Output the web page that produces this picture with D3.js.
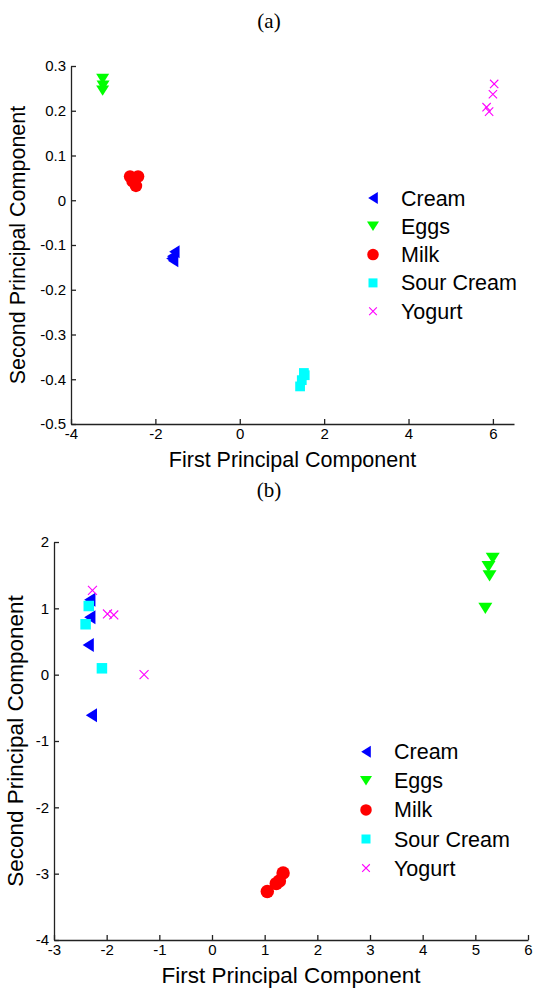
<!DOCTYPE html>
<html>
<head>
<meta charset="utf-8">
<script src="https://cdn.jsdelivr.net/npm/d3@7"></script>
<style>
  html, body { margin: 0; padding: 0; background: #fff; }
  svg { display: block; }
  .tick text { font-family: "Liberation Sans", Arial, sans-serif; font-size: 15px; fill: #000; }
  .axis path, .axis line { stroke: #222; stroke-width: 1.3; }
</style>
</head>
<body>
<svg id="fig" width="537" height="990"></svg>
<script>
// ---- Panel (a) scores: [first PC, second PC] ----
const creamA     = [[-1.55, -0.115], [-1.6, -0.125], [-1.58, -0.135], [-1.62, -0.13]];
const eggsA      = [[-3.25, 0.271], [-3.24, 0.256], [-3.25, 0.245]];
const milkA      = [[-2.6, 0.053], [-2.41, 0.053], [-2.46, 0.032], [-2.54, 0.042]];
const sourCreamA = [[1.43, -0.416], [1.47, -0.402], [1.54, -0.391], [1.52, -0.386]];
const yogurtA    = [[6.03, 0.26], [6.0, 0.237], [5.85, 0.208], [5.91, 0.198]];

// ---- Panel (b) scores ----
const creamB     = [[-2.32, 1.13], [-2.32, 0.865], [-2.35, 0.448], [-2.29, -0.61]];
const eggsB      = [[5.33, 1.755], [5.25, 1.63], [5.27, 1.49], [5.19, 1.0]];
const milkB      = [[1.05, -3.27], [1.22, -3.15], [1.28, -3.11], [1.35, -2.99]];
const sourCreamB = [[-2.34, 1.035], [-2.40, 0.76], [-2.09, 0.096]];
const yogurtB    = [[-2.27, 1.27], [-1.985, 0.915], [-1.865, 0.90], [-1.29, 0.0]];

// ---- Axis ranges and tick labels ----
const xDomainA = [-4, 6.5], yDomainA = [-0.5, 0.3];
const xTicksA = [-4, -2, 0, 2, 4, 6];
const yTicksA = [-0.5, -0.4, -0.3, -0.2, -0.1, 0, 0.1, 0.2, 0.3];
const xDomainB = [-3, 6], yDomainB = [-4, 2];
const xTicksB = [-3, -2, -1, 0, 1, 2, 3, 4, 5, 6];
const yTicksB = [-4, -3, -2, -1, 0, 1, 2];

const seriesNames = ["Cream", "Eggs", "Milk", "Sour Cream", "Yogurt"];
const seriesColors = ["#0000ff", "#00ff00", "#ff0000", "#00ffff", "#ff00ff"];
const seriesShapes = ["left", "down", "circle", "square", "cross"];

const svg = d3.select("#fig");
const FONT = "'Liberation Sans', Arial, sans-serif";

// marker drawing at (0,0)
function marker(g, shape, color, s) {
  if (shape === "left") {
    const w = s * 0.8, h = s;
    g.append("path").attr("d", `M${-w / 2},0 L${w / 2},${-h / 2} L${w / 2},${h / 2} Z`).attr("fill", color);
  } else if (shape === "down") {
    const w = s, h = s * 0.8;
    g.append("path").attr("d", `M${-w / 2},${-h / 2} L${w / 2},${-h / 2} L0,${h / 2} Z`).attr("fill", color);
  } else if (shape === "circle") {
    g.append("circle").attr("r", s * 0.48).attr("fill", color);
  } else if (shape === "square") {
    const a = s * 0.75;
    g.append("rect").attr("x", -a / 2).attr("y", -a / 2).attr("width", a).attr("height", a).attr("fill", color);
  } else {
    const a = s * 0.32;
    g.append("path").attr("d", `M${-a},${-a} L${a},${a} M${-a},${a} L${a},${-a}`)
      .attr("stroke", color).attr("stroke-width", 1.1).attr("fill", "none");
  }
}

function panel(opt) {
  const x = d3.scaleLinear().domain(opt.xDomain).range([opt.left, opt.right]);
  const y = d3.scaleLinear().domain(opt.yDomain).range([opt.bottom, opt.top]);
  const g = svg.append("g");

  g.append("text").attr("x", 269).attr("y", opt.titleY).attr("text-anchor", "middle")
    .attr("font-family", "'Liberation Serif', 'Times New Roman', serif").attr("font-size", 21)
    .text(opt.title);

  const fmt = d => String(+d.toFixed(2));
  g.append("g").attr("class", "axis").attr("transform", `translate(0,${opt.bottom})`)
    .call(d3.axisBottom(x).tickValues(opt.xTicks).tickFormat(fmt).tickSizeInner(-5).tickSizeOuter(0).tickPadding(4));
  g.append("g").attr("class", "axis").attr("transform", `translate(${opt.left},0)`)
    .call(d3.axisLeft(y).tickValues(opt.yTicks).tickFormat(fmt).tickSizeInner(-5).tickSizeOuter(0).tickPadding(5));

  g.append("text").attr("x", (opt.left + opt.right) / 2).attr("y", opt.bottom + 43)
    .attr("text-anchor", "middle").attr("font-family", FONT).attr("font-size", opt.labelSize)
    .text("First Principal Component");
  g.append("text").attr("transform", `translate(${opt.yLabelX},${(opt.top + opt.bottom) / 2}) rotate(-90)`)
    .attr("text-anchor", "middle").attr("font-family", FONT).attr("font-size", opt.labelSize)
    .text("Second Principal Component");

  opt.series.forEach((pts, i) => {
    pts.forEach(p => {
      const m = g.append("g").attr("transform", `translate(${x(p[0])},${y(p[1])})`);
      marker(m, seriesShapes[i], seriesColors[i], opt.markSize);
    });
  });

  seriesNames.forEach((name, i) => {
    const yy = opt.legendY + i * opt.legendStep;
    const m = g.append("g").attr("transform", `translate(${opt.legendX},${yy})`);
    marker(m, seriesShapes[i], seriesColors[i], 12);
    g.append("text").attr("x", opt.legendX + 28).attr("y", yy).attr("dy", "0.35em")
      .attr("font-family", FONT).attr("font-size", 21.5).text(name);
  });
}

panel({
  title: "(a)", titleY: 28,
  left: 71, right: 514, top: 66, bottom: 424,
  xDomain: xDomainA, yDomain: yDomainA, xTicks: xTicksA, yTicks: yTicksA,
  series: [creamA, eggsA, milkA, sourCreamA, yogurtA],
  labelSize: 21.5, yLabelX: 25, markSize: 13,
  legendX: 373, legendY: 198, legendStep: 28.3
});

panel({
  title: "(b)", titleY: 497,
  left: 54, right: 528, top: 542, bottom: 940,
  xDomain: xDomainB, yDomain: yDomainB, xTicks: xTicksB, yTicks: yTicksB,
  series: [creamB, eggsB, milkB, sourCreamB, yogurtB],
  labelSize: 22.5, yLabelX: 23, markSize: 14,
  legendX: 366, legendY: 751.7, legendStep: 29.1
});
</script>
</body>
</html>
